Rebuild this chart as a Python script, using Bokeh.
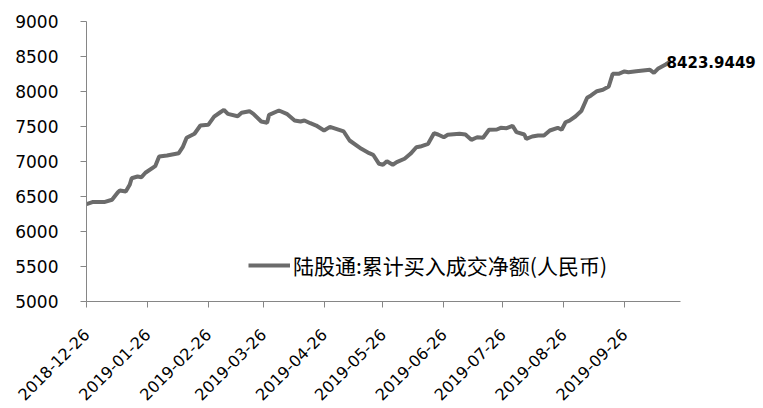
import math
import pandas as pd
from bokeh.plotting import figure
from bokeh.models import (Range1d, FixedTicker, DatetimeTickFormatter, Legend,
                          LegendItem, Label, ColumnDataSource)
from bokeh.embed import file_html
from bokeh.resources import INLINE

# ---- data ----
dates = [
    "2018-12-26", "2018-12-29", "2019-01-04", "2019-01-08", "2019-01-11", "2019-01-12",
    "2019-01-15", "2019-01-17", "2019-01-18", "2019-01-21", "2019-01-23", "2019-01-25",
    "2019-01-30", "2019-02-01", "2019-02-05", "2019-02-11", "2019-02-13", "2019-02-15",
    "2019-02-19", "2019-02-22", "2019-02-26", "2019-03-01", "2019-03-04", "2019-03-06",
    "2019-03-08", "2019-03-13", "2019-03-15", "2019-03-19", "2019-03-21", "2019-03-25",
    "2019-03-28", "2019-03-29", "2019-04-03", "2019-04-07", "2019-04-11", "2019-04-14",
    "2019-04-16", "2019-04-19", "2019-04-22", "2019-04-26", "2019-04-29", "2019-05-06",
    "2019-05-09", "2019-05-15", "2019-05-19", "2019-05-21", "2019-05-24", "2019-05-26",
    "2019-05-28", "2019-05-31", "2019-06-02", "2019-06-06", "2019-06-09", "2019-06-12",
    "2019-06-14", "2019-06-18", "2019-06-21", "2019-06-23", "2019-06-26", "2019-06-28",
    "2019-07-04", "2019-07-07", "2019-07-08", "2019-07-10", "2019-07-13", "2019-07-16",
    "2019-07-19", "2019-07-23", "2019-07-25", "2019-07-28", "2019-07-31", "2019-08-02",
    "2019-08-06", "2019-08-07", "2019-08-10", "2019-08-13", "2019-08-16", "2019-08-19",
    "2019-08-23", "2019-08-25", "2019-08-27", "2019-08-29", "2019-09-01", "2019-09-04",
    "2019-09-07", "2019-09-09", "2019-09-12", "2019-09-15", "2019-09-18", "2019-09-20",
    "2019-09-23", "2019-09-26", "2019-09-28", "2019-10-02", "2019-10-09", "2019-10-11",
    "2019-10-13", "2019-10-17", "2019-10-19",
]
values = [
    6390, 6420, 6420, 6453, 6561, 6586,
    6571, 6667, 6761, 6786, 6776, 6839,
    6933, 7071, 7086, 7119, 7204, 7339,
    7396, 7514, 7524, 7640, 7700, 7739,
    7681, 7647, 7696, 7719, 7681, 7571,
    7553, 7667, 7729, 7681, 7586, 7571,
    7586, 7547, 7514, 7443, 7495, 7429,
    7300, 7181, 7119, 7096, 6967, 6953,
    7004, 6953, 6990, 7039, 7110, 7204,
    7214, 7253, 7404, 7386, 7347, 7381,
    7396, 7386, 7360, 7310, 7347, 7339,
    7453, 7457, 7481, 7476, 7510, 7419,
    7386, 7324, 7357, 7371, 7371, 7443,
    7481, 7453, 7561, 7585, 7643, 7720,
    7910, 7943, 8004, 8024, 8071, 8253,
    8253, 8286, 8276, 8290, 8310, 8267,
    8324, 8386, 8423.9449,
]
series_name = "陆股通:累计买入成交净额(人民币)"
x_tick_labels = ["2018-12-26", "2019-01-26", "2019-02-26", "2019-03-26", "2019-04-26",
                 "2019-05-26", "2019-06-26", "2019-07-26", "2019-08-26", "2019-09-26"]
y_ticks = [5000, 5500, 6000, 6500, 7000, 7500, 8000, 8500, 9000]
x_start, x_axis_end = "2018-12-26", "2019-10-24 12:00"
x_view_end = "2019-12-04 07:00"   # extra room on the right for the end label
y_start, y_end = 5000, 9000


def ms(s):
    return (pd.Timestamp(s) - pd.Timestamp("1970-01-01")).total_seconds() * 1000.0


src = ColumnDataSource(dict(x=pd.to_datetime(dates), y=values))

p = figure(width=762, height=408, x_axis_type="datetime", output_backend="svg",
           toolbar_location=None,
           x_range=Range1d(ms(x_start), ms(x_view_end)), y_range=Range1d(y_start, y_end),
           min_border_left=86, min_border_right=2, min_border_top=21, min_border_bottom=107)
p.xgrid.visible = False
p.ygrid.visible = False
p.outline_line_color = None
p.background_fill_color = "white"
p.border_fill_color = "white"

line_color = "#6b6b6b"
r = p.line("x", "y", source=src, line_color=line_color, line_width=4)

axis_color = "#868686"
for ax in (p.xaxis[0], p.yaxis[0]):
    ax.axis_line_color = axis_color
    ax.major_tick_line_color = axis_color
    ax.minor_tick_line_color = None
    ax.major_tick_out = 6
    ax.major_tick_in = 0
    ax.major_label_text_font = "DejaVu Sans"
    ax.major_label_text_color = "#000000"

p.yaxis[0].ticker = FixedTicker(ticks=y_ticks)
p.yaxis[0].major_label_standoff = 22
p.yaxis[0].major_label_text_font_size = "17px"

p.xaxis[0].bounds = (ms(x_start), ms(x_axis_end))
p.xaxis[0].ticker = FixedTicker(ticks=[ms(t) for t in x_tick_labels])
fmt = "%Y-%m-%d"
p.xaxis[0].formatter = DatetimeTickFormatter(
    milliseconds=fmt, seconds=fmt, minsec=fmt, minutes=fmt, hourmin=fmt, hours=fmt,
    days=fmt, months=fmt, years=fmt)
p.xaxis[0].major_label_orientation = math.pi / 4
p.xaxis[0].major_label_standoff = 24
p.xaxis[0].major_label_text_font_size = "16px"

legend = Legend(items=[LegendItem(label=series_name, renderers=[r])],
                location=(162, 21), border_line_color=None, background_fill_alpha=0,
                padding=0, margin=0, spacing=0, glyph_width=42, glyph_height=24,
                label_height=24, label_standoff=3,
                label_text_font="Noto Sans CJK SC", label_text_font_size="21px",
                label_text_color="#000000")
p.add_layout(legend)

end_label = Label(x=ms(dates[-1]), y=values[-1], text=f"{values[-1]}",
                  x_offset=-3, text_baseline="middle", text_align="left",
                  text_font="DejaVu Sans", text_font_style="bold",
                  text_font_size="15px", text_color="#000000")
p.add_layout(end_label)

open("out.html", "w").write(file_html(p, INLINE))
